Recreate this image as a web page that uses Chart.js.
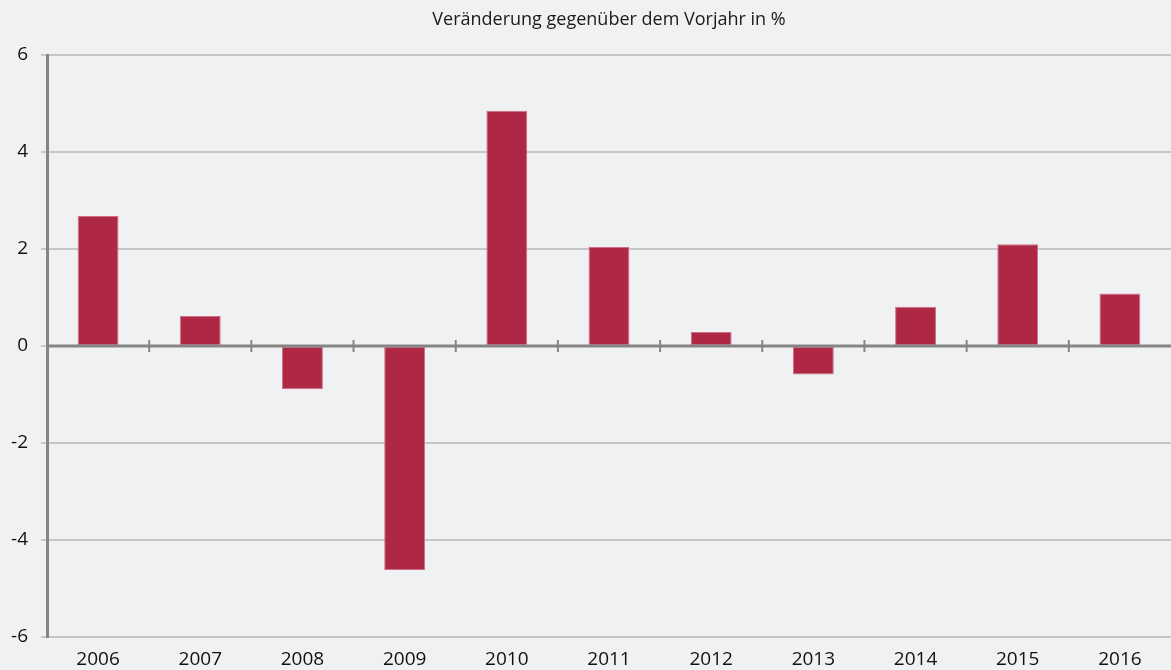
<!DOCTYPE html>
<html>
<head>
<meta charset="utf-8">
<script src="https://cdn.jsdelivr.net/npm/chart.js@4"></script>
<style>
  html, body { margin: 0; padding: 0; background: #f0f1f3; }
  #wrap { width: 1171px; height: 670px; position: relative; }
</style>
</head>
<body>
<div id="wrap"><canvas id="c"></canvas></div>
<script>
const categories = ['2006','2007','2008','2009','2010','2011','2012','2013','2014','2015','2016'];
const values = [2.68, 0.62, -0.89, -4.62, 4.85, 2.04, 0.29, -0.59, 0.81, 2.1, 1.08];
const yTicks = [-6, -4, -2, 0, 2, 4, 6];
const titleText = 'Veränderung gegenüber dem Vorjahr in %';

const FONT = "'Open Sans', 'Noto Sans', sans-serif";

const titlePlugin = {
  id: 'areaTitle',
  afterDraw(chart) {
    const { ctx, chartArea } = chart;
    ctx.save();
    ctx.fillStyle = '#1a1a1a';
    ctx.font = "18px " + FONT;
    ctx.textAlign = 'center';
    ctx.textBaseline = 'middle';
    ctx.fillText(titleText, (chartArea.left + chartArea.right) / 2, 20);
    ctx.restore();
  }
};

const zeroLinePlugin = {
  id: 'zeroLine',
  afterDatasetsDraw(chart) {
    const { ctx, chartArea, scales } = chart;
    const y0 = scales.y.getPixelForValue(0);
    ctx.save();
    ctx.strokeStyle = '#858585';
    ctx.lineWidth = 3;
    ctx.beginPath();
    ctx.moveTo(chartArea.left, y0);
    ctx.lineTo(chartArea.right, y0);
    ctx.stroke();
    ctx.lineWidth = 2;
    for (let i = 0; i < categories.length - 1; i++) {
      const x = (scales.x.getPixelForValue(i) + scales.x.getPixelForValue(i + 1)) / 2;
      ctx.beginPath();
      ctx.moveTo(x, y0 - 6);
      ctx.lineTo(x, y0 + 6);
      ctx.stroke();
    }
    ctx.restore();
  }
};

new Chart(document.getElementById('c'), {
  type: 'bar',
  data: {
    labels: categories,
    datasets: [{
      data: values,
      backgroundColor: '#ae2846',
      borderColor: '#cf6f86',
      borderWidth: 1,
      borderSkipped: false,
      barPercentage: 0.4,
      categoryPercentage: 1.0
    }]
  },
  options: {
    responsive: true,
    maintainAspectRatio: false,
    animation: false,
    layout: { padding: { top: 55, right: 0, bottom: 0, left: 0 } },
    plugins: {
      legend: { display: false },
      tooltip: { enabled: false },
      title: { display: false }
    },
    scales: {
      x: {
        offset: true,
        grid: { display: false, drawTicks: false },
        border: { display: false },
        ticks: {
          color: '#111',
          font: { family: FONT, size: 19 },
          padding: 11,
          maxRotation: 0
        },
        afterFit(s) { s.height = 33; }
      },
      y: {
        min: -6,
        max: 6,
        afterBuildTicks(s) { s.ticks = yTicks.map(v => ({ value: v })); },
        grid: {
          color: '#c6c7c9',
          lineWidth: 2,
          tickLength: 6,
          tickColor: '#c6c7c9',
          drawTicks: true
        },
        border: { display: true, color: '#858585', width: 3 },
        ticks: {
          color: '#111',
          font: { family: FONT, size: 19 },
          padding: 13
        },
        afterFit(s) { s.width = 47; }
      }
    }
  },
  plugins: [zeroLinePlugin, titlePlugin]
});
</script>
</body>
</html>
